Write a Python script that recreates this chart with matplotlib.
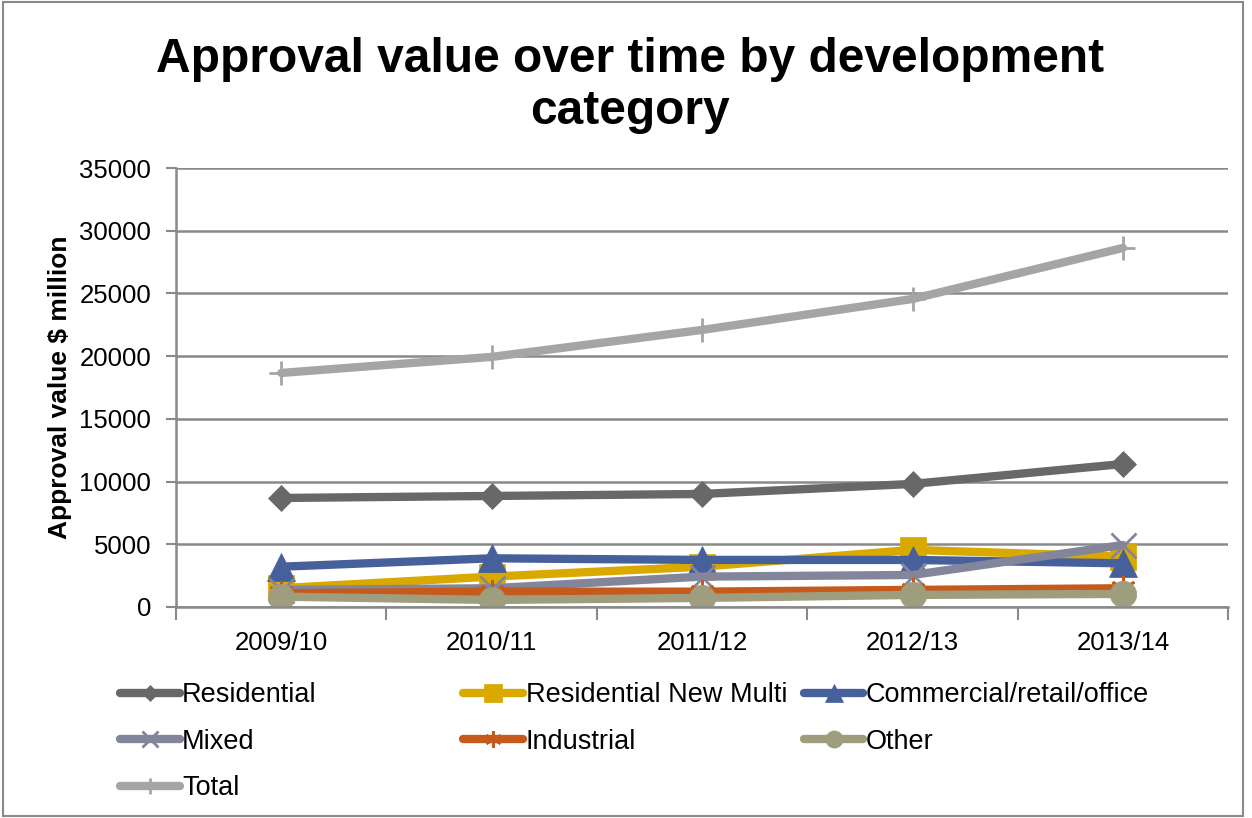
import matplotlib
matplotlib.use('Agg')
import numpy as np
from matplotlib import pyplot as plt
from matplotlib.patches import Rectangle

plt.rcParams['font.family'] = ['Liberation Sans', 'DejaVu Sans']

years = ['2009/10', '2010/11', '2011/12', '2012/13', '2013/14']

residential = [8690, 8850, 9010, 9810, 11400]
residential_new_multi = [1500, 2420, 3210, 4550, 4010]
commercial = [3210, 3880, 3750, 3750, 3480]
mixed = [1360, 1490, 2420, 2550, 4940]
industrial = [1090, 1220, 1220, 1360, 1490]
other = [820, 560, 720, 960, 1040]
total = [18660, 19940, 22090, 24560, 28630]

series = [
   ('Residential', residential, '#686868', 'D', 13),
   ('Residential New Multi', residential_new_multi, '#D9A900', 's', 19),
   ('Commercial/retail/office', commercial, '#45609B', '^', 19.5),
   ('Mixed', mixed, '#83859A', 'x', 18),
   ('Industrial', industrial, '#C65A1C', (6, 2, 0), 18),
   ('Other', other, '#9E9E7E', 'o', 19),
   ('Total', total, '#A5A5A5', '+', 17),
]

fig = plt.figure(figsize=(12.52, 8.18), dpi=100)
ax = fig.add_axes([0.1406, 0.258, 0.8404, 0.5366])

x = np.arange(len(years))
handles = {}
for name, vals, col, mk, ms in series:
   thin = mk in ('x', '+', (6, 2, 0))
   h, = ax.plot(x, vals, color=col, lw=6, marker=mk, markersize=ms,
                markeredgewidth=2 if thin else 0.5, markeredgecolor=col,
                markerfacecolor=col, label=name, solid_capstyle='round')
   handles[name] = h

ax.set_xlim(-0.5, 4.5)
ax.set_ylim(0, 35000)
ax.set_yticks(np.arange(0, 35001, 5000))
ax.set_xticks(x)
ax.set_xticklabels(years)
ax.set_xticks(np.arange(-0.5, 4.6, 1), minor=True)
ax.tick_params(axis='x', which='major', length=0, labelsize=18.5, pad=17)
ax.tick_params(axis='x', which='minor', length=9, width=1.5, color='#898989')
ax.tick_params(axis='y', length=7, width=1.5, color='#898989', labelsize=18.5, pad=11)
ax.grid(axis='y', color='#898989', lw=1.8)
ax.set_axisbelow(True)
for s in ['top', 'right']:
   ax.spines[s].set_visible(False)
for s in ['left', 'bottom']:
   ax.spines[s].set_color('#898989')
   ax.spines[s].set_linewidth(1.8)

ax.set_ylabel('Approval value \\$ million', fontsize=19, fontweight='bold', labelpad=5)

fig.text(0.503, 0.896, 'Approval value over time by development\ncategory',
         ha='center', va='center', fontsize=34.5, fontweight='bold', linespacing=1.2)

# legend laid out as three columns, row by row like the original
cols = [
   (['Residential', 'Mixed', 'Total'], 0.0958),
   (['Residential New Multi', 'Industrial'], 0.370),
   (['Commercial/retail/office', 'Other'], 0.642),
]
for names, xpos in cols:
   fig.legend([handles[n] for n in names], names, loc='upper left',
              bbox_to_anchor=(xpos, 0.166), frameon=False, fontsize=19.5,
              handlelength=2.2, handletextpad=0.1, labelspacing=0.76,
              borderaxespad=0, borderpad=0, markerscale=0.65)

fig.patches.append(Rectangle((0.002, 0.003), 0.991, 0.994, transform=fig.transFigure,
                             fill=False, edgecolor='#898989', lw=1.5))

plt.savefig('out.png', dpi=100)
